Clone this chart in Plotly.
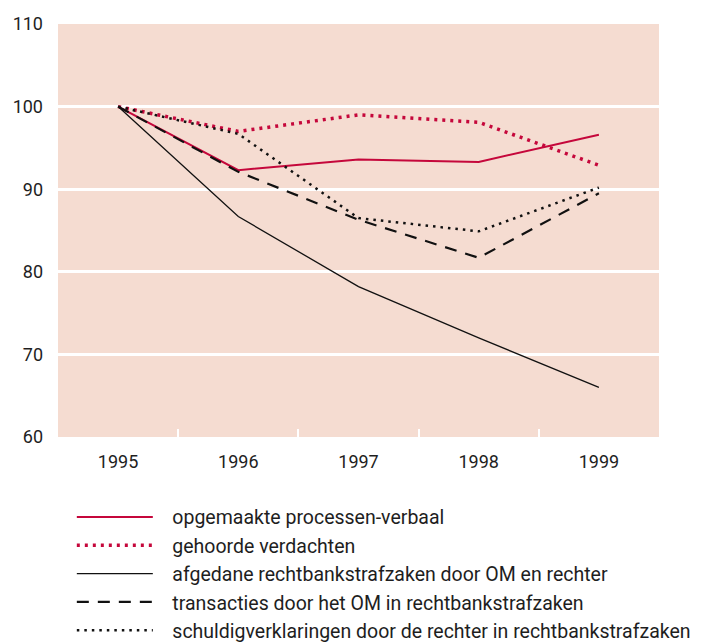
import plotly.graph_objects as go

years = ["1995", "1996", "1997", "1998", "1999"]

processen_verbaal = [100, 92.3, 93.6, 93.3, 96.6]
gehoorde_verdachten = [100, 97.0, 99.0, 98.1, 92.9]
afgedane_zaken = [100, 86.7, 78.2, 72.0, 66.0]
transacties_om = [100, 92.1, 86.3, 81.7, 89.5]
schuldigverklaringen = [100, 96.7, 86.5, 84.9, 90.2]

RED = "#c5073b"
BLACK = "#111111"
BG = "#f5dcd1"
TEXT = "#1e1e1e"
FONT = "Roboto, sans-serif"
PAD = "\u00a0\u00a0\u00a0"  # gap between legend key and its label

series = [
    ("opgemaakte processen-verbaal", processen_verbaal, dict(color=RED, width=2)),
    ("gehoorde verdachten", gehoorde_verdachten, dict(color=RED, width=3.5, dash="3px,5px")),
    ("afgedane rechtbankstrafzaken door OM en rechter", afgedane_zaken, dict(color=BLACK, width=1.3)),
    ("transacties door het OM in rechtbankstrafzaken", transacties_om, dict(color=BLACK, width=2.2, dash="12px,9px")),
    ("schuldigverklaringen door de rechter in rechtbankstrafzaken", schuldigverklaringen,
     dict(color=BLACK, width=2.5, dash="2.5px,5px")),
]

fig = go.Figure()
for name, values, line in series:
    fig.add_scatter(x=years, y=values, name=PAD + name, mode="lines", line=line)

fig.update_layout(
    width=713,
    height=642,
    margin=dict(l=58, r=54, t=24, b=205, autoexpand=False),
    plot_bgcolor=BG,
    paper_bgcolor="white",
    font=dict(family=FONT, size=19.5, color=TEXT),
    showlegend=True,
    legend=dict(
        x=0.023,
        xanchor="left",
        y=-0.147,
        yanchor="top",
        font=dict(size=19.5, color=TEXT),
        itemwidth=76,
        tracegroupgap=0,
        bgcolor="rgba(0,0,0,0)",
    ),
)
fig.update_xaxes(
    type="category",
    range=[-0.5, 4.5],
    tickson="boundaries",
    ticks="inside",
    ticklen=8,
    tickwidth=2,
    tickcolor="white",
    showgrid=False,
    showline=False,
    zeroline=False,
    automargin=False,
    ticklabelstandoff=12,
    tickfont=dict(size=18, color=TEXT),
)
fig.update_yaxes(
    range=[60, 110],
    dtick=10,
    showgrid=True,
    gridcolor="white",
    gridwidth=3,
    zeroline=False,
    showline=False,
    ticks="",
    automargin=False,
    ticklabelstandoff=14,
    tickfont=dict(size=18, color=TEXT),
)

# the browser's default 8px body margin would push the figure off the window
fig.write_html(
    "out.html",
    config={"displayModeBar": False},
    post_script="document.body.style.margin = '0';",
)
